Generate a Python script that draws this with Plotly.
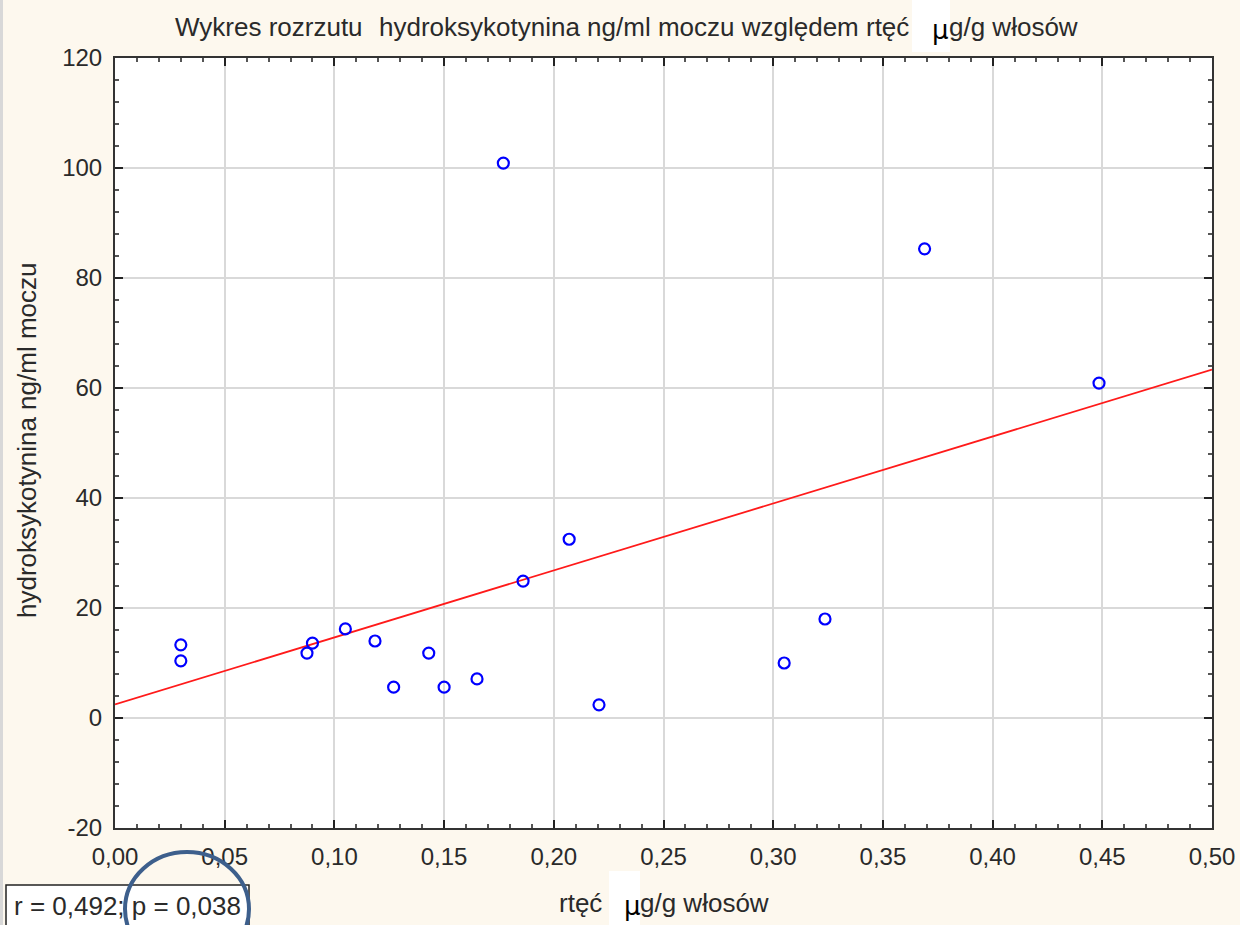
import numpy as np
import plotly.graph_objects as go

# Mercury in hair (µg/g) vs urinary hydroxycotinine (ng/ml)
rtec = [0.030, 0.030, 0.0875, 0.090, 0.105, 0.1185, 0.127, 0.143, 0.150,
        0.165, 0.177, 0.186, 0.207, 0.2206, 0.305, 0.3236, 0.369, 0.4485]
hydroksykotynina = [13.3, 10.4, 11.8, 13.6, 16.2, 14.0, 5.6, 11.8, 5.6,
                    7.1, 100.9, 24.9, 32.5, 2.4, 10.0, 18.0, 85.3, 60.9]

x_ticks = [0.00, 0.05, 0.10, 0.15, 0.20, 0.25, 0.30, 0.35, 0.40, 0.45, 0.50]
x_tick_labels = ["0,00", "0,05", "0,10", "0,15", "0,20", "0,25",
                 "0,30", "0,35", "0,40", "0,45", "0,50"]
y_ticks = [-20, 0, 20, 40, 60, 80, 100, 120]
y_tick_labels = ["-20", "0", "20", "40", "60", "80", "100", "120"]

stats_text = "r = 0,492; p = 0,038"

# least-squares fit line across the x range
slope, intercept = np.polyfit(rtec, hydroksykotynina, 1)
fit_x = [x_ticks[0], x_ticks[-1]]
fit_y = [intercept + slope * v for v in fit_x]

FONT = "Liberation Sans, Arial, sans-serif"
TXT = "#2a2a2a"
BG = "#fdf8ee"

W, H = 1240, 925
L, R, T, B = 115, 1212, 58, 828   # plot-area edges in page pixels


def px(x):
    """page pixel column -> paper x"""
    return (x - L) / (R - L)


def py(y):
    """page pixel row -> paper y"""
    return (B - y) / (B - T)


fig = go.Figure()
fig.add_trace(go.Scatter(
    x=fit_x, y=fit_y, mode="lines",
    line=dict(color="#ff1a1a", width=1.8), hoverinfo="skip"))
fig.add_trace(go.Scatter(
    x=rtec, y=hydroksykotynina, mode="markers",
    marker=dict(symbol="circle-open", size=11, color="#0000ff",
                line=dict(width=2.2, color="#0000ff"))))

axis_common = dict(
    showline=True, linecolor="#333333", linewidth=2, mirror="allticks",
    ticks="inside", ticklen=8, tickwidth=1.5, tickcolor="#222222",
    showgrid=True, gridcolor="#d9d9d9", gridwidth=2, zeroline=False,
    automargin=False,
    tickfont=dict(family=FONT, size=24, color=TXT),
)

fig.update_xaxes(
    range=[0, 0.5], tickvals=x_ticks, ticktext=x_tick_labels,
    ticklabelstandoff=6,
    minor=dict(ticks="inside", dtick=0.01, ticklen=4, tickcolor="#555555",
               showgrid=False),
    **axis_common)
fig.update_yaxes(
    range=[-20, 120], tickvals=y_ticks, ticktext=y_tick_labels,
    ticklabelstandoff=6,
    minor=dict(ticks="inside", dtick=4, ticklen=4, tickcolor="#555555",
               showgrid=False),
    **axis_common)


def label(x, y, text, anchor, size=26, **kw):
    return dict(x=px(x), y=py(y), xref="paper", yref="paper",
                xanchor=anchor, yanchor="middle", showarrow=False,
                text=text, font=dict(family=FONT, size=size, color=TXT), **kw)


MU_FONT = dict(family="DejaVu Sans, sans-serif", size=26, color="#000000")

annotations = [
    # title
    label(173, 27, "Wykres rozrzutu", "left"),
    label(911, 27, "hydroksykotynina ng/ml moczu względem rtęć", "right"),
    dict(x=px(940), y=py(30), xref="paper", yref="paper", xanchor="center",
         yanchor="middle", showarrow=False, text="µ", font=MU_FONT),
    label(947, 27, "g/g włosów", "left"),
    # x axis title
    label(604, 903, "rtęć", "right"),
    dict(x=px(632), y=py(906), xref="paper", yref="paper", xanchor="center",
         yanchor="middle", showarrow=False, text="µ", font=MU_FONT),
    label(638, 903, "g/g włosów", "left"),
    # y axis title
    label(27, 441, "hydroksykotynina ng/ml moczu", "center", textangle=-90),
    # correlation statistics
    label(12, 906, stats_text, "left", size=26),
]

shapes = [
    # thin grey frame at the left edge of the page
    dict(type="rect", xref="paper", yref="paper",
         x0=px(0), x1=px(3), y0=py(H), y1=py(0), fillcolor="#d8d8d8",
         line=dict(width=0), layer="below"),
    # white patches behind the µ glyphs
    dict(type="rect", xref="paper", yref="paper",
         x0=px(912), x1=px(950), y0=py(52), y1=py(0), fillcolor="#ffffff",
         line=dict(width=0), layer="above"),
    dict(type="rect", xref="paper", yref="paper",
         x0=px(609), x1=px(640), y0=py(H), y1=py(871), fillcolor="#ffffff",
         line=dict(width=0), layer="above"),
    # box around the correlation statistics
    dict(type="rect", xref="paper", yref="paper",
         x0=px(6), x1=px(249), y0=py(935), y1=py(885), fillcolor="#ffffff",
         line=dict(color="#222222", width=1.5), layer="above"),
    # highlight ring around the p value
    dict(type="circle", xref="paper", yref="paper",
         x0=px(125), x1=px(249), y0=py(966), y1=py(852),
         line=dict(color="#3d5f8c", width=4), layer="above"),
]

fig.update_layout(
    width=W, height=H,
    margin=dict(l=L, r=W - R, t=T, b=H - B, autoexpand=False),
    paper_bgcolor=BG, plot_bgcolor="#ffffff",
    showlegend=False,
    annotations=annotations, shapes=shapes,
)

fig.write_html("out.html", include_plotlyjs=True, full_html=True,
               config={"displayModeBar": False})
